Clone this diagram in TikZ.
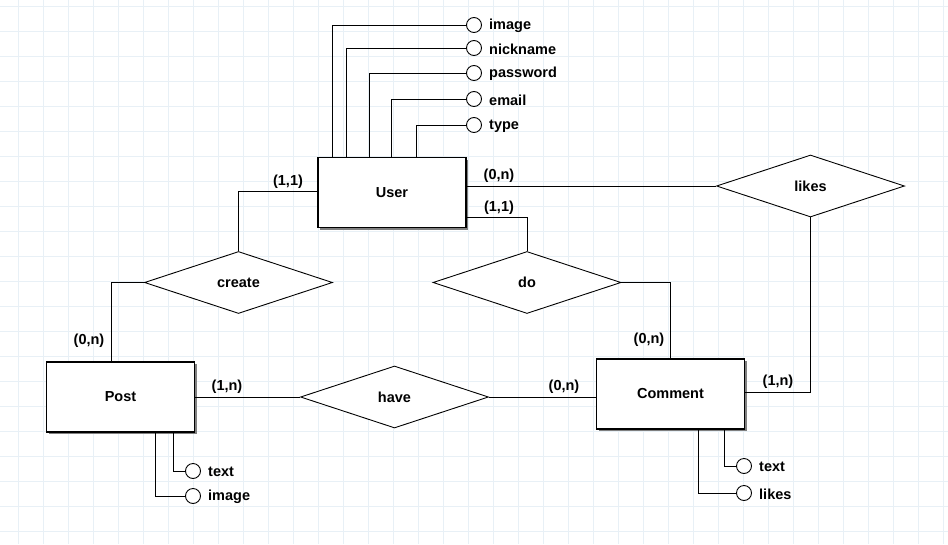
\documentclass[tikz,border=0pt]{standalone}
\usepackage{fontspec}
\setmainfont{Liberation Sans}
\usetikzlibrary{shapes.geometric,shadows}
\definecolor{gridc}{RGB}{232,240,246}
\begin{document}
\begin{tikzpicture}[x=1pt,y=-1pt,
  txt/.style={font=\fontsize{14.5}{16}\selectfont\bfseries},
  entity/.style={draw, fill=white, line width=1.1pt, minimum width=148pt, minimum height=70pt, inner sep=0pt, txt,
     drop shadow={shadow xshift=2.2pt,shadow yshift=-2.2pt,opacity=1,fill=black!50}},
  relation/.style={draw, fill=white, diamond, aspect=3.03, minimum width=188pt, minimum height=62pt, inner sep=0pt, line width=0.9pt, txt},
  attr/.style={draw, circle, fill=white, minimum size=15pt, inner sep=0pt, line width=0.9pt},
  attrlabel/.style={anchor=west, inner sep=0pt, txt},
  card/.style={inner sep=0pt, txt},
  conn/.style={line width=0.9pt}]
\useasboundingbox (0,0) rectangle (948,544);
\fill[white] (0,0) rectangle (948,544);
\foreach \x in {18.5,43.5,...,943.5} \draw[gridc, line width=0.8pt] (\x,0) -- (\x,544);
\foreach \y in {6,31,...,531} \draw[gridc, line width=0.8pt] (0,\y) -- (948,\y);

% entities
\node[entity] (user) at (392,192.5) {\raisebox{-1pt}{User}};
\node[entity] (post) at (120.5,397) {\raisebox{-1pt}{Post}};
\node[entity] (comment) at (670.5,394) {\raisebox{-1pt}{Comment}};

% relations
\node[relation] (create) at (238.5,282.5) {\raisebox{-1.5pt}{create}};
\node[relation] (do) at (527,282.5) {\raisebox{-1.5pt}{do}};
\node[relation] (likes) at (810.5,186) {\raisebox{-1.5pt}{likes}};
\node[relation] (have) at (394.5,397) {\raisebox{-1.5pt}{have}};

% user attributes
\node[attr] (uimage) at (474,25) {};
\node[attr] (unick) at (474,48) {};
\node[attr] (upass) at (474,73) {};
\node[attr] (uemail) at (474,99) {};
\node[attr] (utype) at (474,125) {};
\node[attrlabel] (limage) at (489,26) {image};
\node[attrlabel] (lnick) at (489,49) {nickname};
\node[attrlabel] (lpass) at (489,74) {password};
\node[attrlabel] (lemail) at (489,100) {email};
\node[attrlabel] (ltype) at (489,126) {type};
\draw[conn] ([xshift=-60pt]user.north) |- (uimage.west);
\draw[conn] ([xshift=-46pt]user.north) |- (unick.west);
\draw[conn] ([xshift=-23pt]user.north) |- (upass.west);
\draw[conn] ([xshift=-1pt]user.north) |- (uemail.west);
\draw[conn] ([xshift=24pt]user.north) |- (utype.west);

% post attributes
\node[attr] (ptext) at (193,471) {};
\node[attr] (pimage) at (193,496) {};
\node[attrlabel] (lptext) at (208,472) {text};
\node[attrlabel] (lpimage) at (208,497) {image};
\draw[conn] ([xshift=52.5pt]post.south) |- (ptext.west);
\draw[conn] ([xshift=34.5pt]post.south) |- (pimage.west);

% comment attributes
\node[attr] (ctext) at (744,466) {};
\node[attr] (clikes) at (744,493) {};
\node[attrlabel] (lctext) at (759,467) {text};
\node[attrlabel] (lclikes) at (759,494) {likes};
\draw[conn] ([xshift=53.5pt]comment.south) |- (ctext.west);
\draw[conn] ([xshift=27.5pt]comment.south) |- (clikes.west);

% connectors
\draw[conn] ([yshift=1.5pt]user.west) -| (create.north);
\draw[conn] (create.west) -| ([xshift=-9.5pt]post.north);
\draw[conn] (likes.west -| user.east) -- (likes.west);
\draw[conn] ([yshift=-24.5pt]user.east) -| (do.north);
\draw[conn] (do.east) -| (comment.north);
\draw[conn] (likes.south) |- ([yshift=2pt]comment.east);
\draw[conn] (post.east) -- (have.west);
\draw[conn] (have.east) -- (have.east -| comment.west);

% cardinalities
\node[card] (c1) at (288,182) {(1,1)};
\node[card] (c2) at (89,341) {(0,n)};
\node[card] (c3) at (499,176) {(0,n)};
\node[card] (c4) at (499,208) {(1,1)};
\node[card] (c5) at (649,340) {(0,n)};
\node[card] (c6) at (778,382) {(1,n)};
\node[card] (c7) at (227,387) {(1,n)};
\node[card] (c8) at (564,387) {(0,n)};
\end{tikzpicture}
\end{document}
